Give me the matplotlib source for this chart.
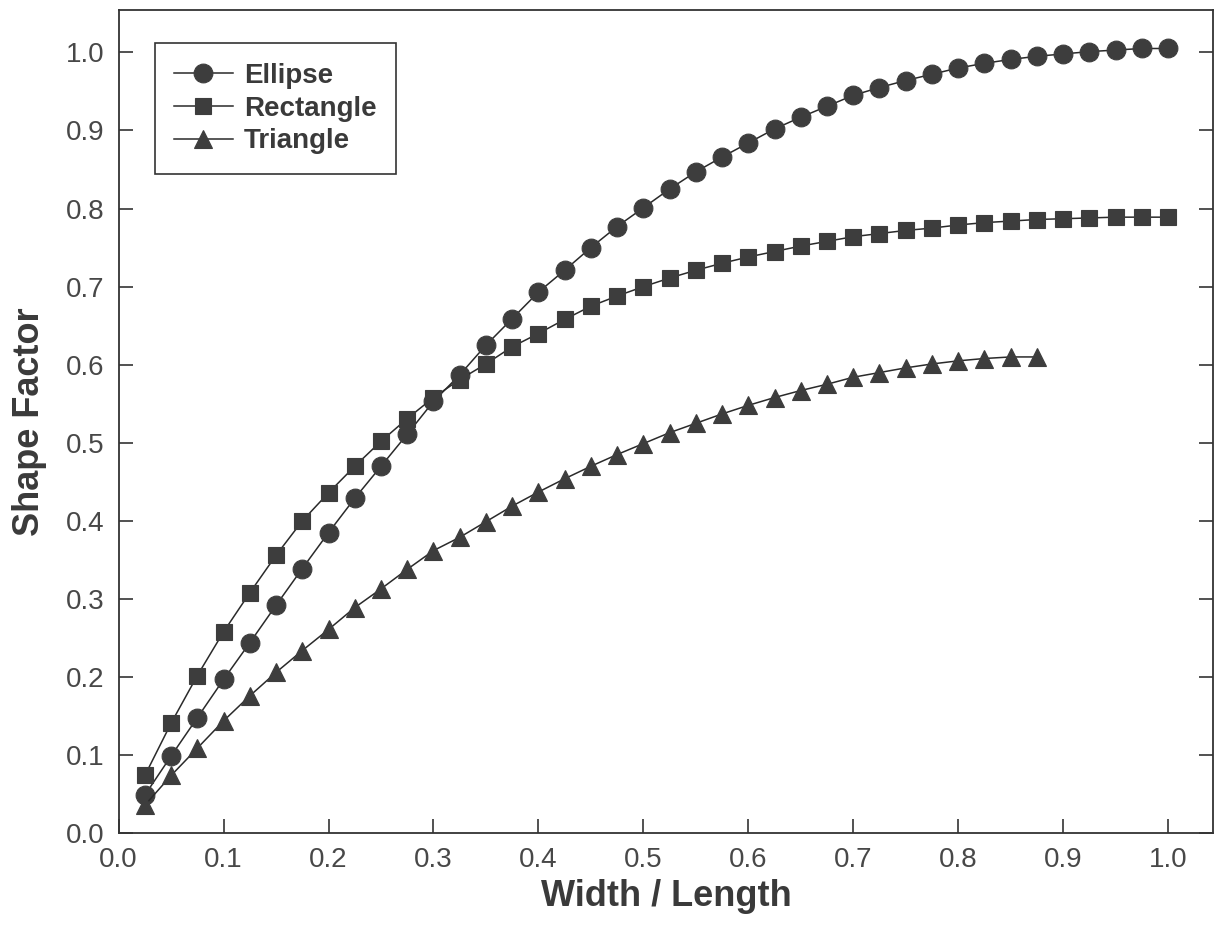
"""Shape factor vs width/length for ellipse, rectangle and triangle."""

import matplotlib as mpl
import matplotlib.pyplot as plt

mpl.rcParams.update(
    {
        "font.family": ["Liberation Sans", "DejaVu Sans"],
        "xtick.direction": "in",
        "ytick.direction": "in",
    }
)

# ---- data ----
ELLIPSE_X = [0.025, 0.05, 0.075, 0.1, 0.125, 0.15, 0.175, 0.2, 0.225, 0.25,
             0.275, 0.3, 0.325, 0.35, 0.375, 0.4, 0.425, 0.45, 0.475, 0.5,
             0.525, 0.55, 0.575, 0.6, 0.625, 0.65, 0.675, 0.7, 0.725, 0.75,
             0.775, 0.8, 0.825, 0.85, 0.875, 0.9, 0.925, 0.95, 0.975, 1.0]
ELLIPSE_Y = [0.049, 0.099, 0.148, 0.197, 0.244, 0.292, 0.339, 0.385, 0.429, 0.470,
             0.511, 0.553, 0.587, 0.625, 0.659, 0.693, 0.721, 0.750, 0.777, 0.801,
             0.825, 0.847, 0.866, 0.884, 0.902, 0.917, 0.931, 0.945, 0.955, 0.964,
             0.972, 0.980, 0.986, 0.991, 0.995, 0.998, 1.001, 1.003, 1.005, 1.005]

RECT_X = ELLIPSE_X
RECT_Y = [0.074, 0.141, 0.202, 0.258, 0.308, 0.356, 0.400, 0.436, 0.470, 0.502,
          0.531, 0.558, 0.581, 0.601, 0.623, 0.640, 0.658, 0.675, 0.688, 0.700,
          0.711, 0.721, 0.730, 0.738, 0.745, 0.752, 0.758, 0.764, 0.768, 0.772,
          0.775, 0.779, 0.782, 0.784, 0.786, 0.787, 0.788, 0.789, 0.789, 0.789]

TRI_X = [0.025, 0.05, 0.075, 0.1, 0.125, 0.15, 0.175, 0.2, 0.225, 0.25,
         0.275, 0.3, 0.325, 0.35, 0.375, 0.4, 0.425, 0.45, 0.475, 0.5,
         0.525, 0.55, 0.575, 0.6, 0.625, 0.65, 0.675, 0.7, 0.725, 0.75,
         0.775, 0.8, 0.825, 0.85, 0.875]
TRI_Y = [0.036, 0.074, 0.109, 0.144, 0.176, 0.206, 0.234, 0.261, 0.289, 0.313,
         0.338, 0.362, 0.379, 0.399, 0.419, 0.437, 0.454, 0.470, 0.485, 0.499,
         0.513, 0.525, 0.537, 0.548, 0.558, 0.567, 0.575, 0.584, 0.590, 0.596,
         0.601, 0.605, 0.608, 0.610, 0.610]

X_TICKS = [0.0, 0.1, 0.2, 0.3, 0.4, 0.5, 0.6, 0.7, 0.8, 0.9, 1.0]
Y_TICKS = [0.0, 0.1, 0.2, 0.3, 0.4, 0.5, 0.6, 0.7, 0.8, 0.9, 1.0]

MARK = "#3d3d3d"
LINE = "#2a2a2a"
TEXT = "#3a3a3a"
TICKTEXT = "#484848"

fig = plt.figure(figsize=(12.27, 9.30), dpi=100)
ax = fig.add_axes([0.0967, 0.104, 0.892, 0.885])

common = dict(color=LINE, linewidth=1.1, markerfacecolor=MARK,
              markeredgecolor=MARK, markeredgewidth=0.8)
ax.plot(ELLIPSE_X, ELLIPSE_Y, marker="o", markersize=13.5, label="Ellipse", **common)
ax.plot(RECT_X, RECT_Y, marker="s", markersize=11.5, label="Rectangle", **common)
ax.plot(TRI_X, TRI_Y, marker="^", markersize=12.5, label="Triangle", **common)

ax.set_xlim(0, 1.043)
ax.set_ylim(0, 1.054)
ax.set_xticks(X_TICKS)
ax.set_yticks(Y_TICKS)
ax.xaxis.set_major_formatter(mpl.ticker.FormatStrFormatter("%.1f"))
ax.yaxis.set_major_formatter(mpl.ticker.FormatStrFormatter("%.1f"))
ax.tick_params(axis="both", which="major", length=10, width=1.2, color="#333333",
               labelsize=20, labelcolor=TICKTEXT, pad=10)
ax.tick_params(axis="y", right=True)
ax.tick_params(axis="x", top=False)
for sp in ax.spines.values():
    sp.set_linewidth(1.3)
    sp.set_color("#333333")

ax.set_xlabel("Width / Length", fontsize=26, fontweight="bold", color=TEXT, labelpad=4)
ax.set_ylabel("Shape Factor", fontsize=26, fontweight="bold", color=TEXT, labelpad=14)

leg = ax.legend(
    loc="upper left",
    bbox_to_anchor=(0.033, 0.96),
    borderaxespad=0,
    fancybox=False,
    edgecolor="#333333",
    framealpha=1,
    prop={"size": 20, "weight": "bold"},
    handlelength=2.1,
    handletextpad=0.4,
    labelspacing=0.25,
    borderpad=0.7,
)
leg.get_frame().set_linewidth(1.2)
for t in leg.get_texts():
    t.set_color(TEXT)

fig.savefig("out.png", dpi=100)
